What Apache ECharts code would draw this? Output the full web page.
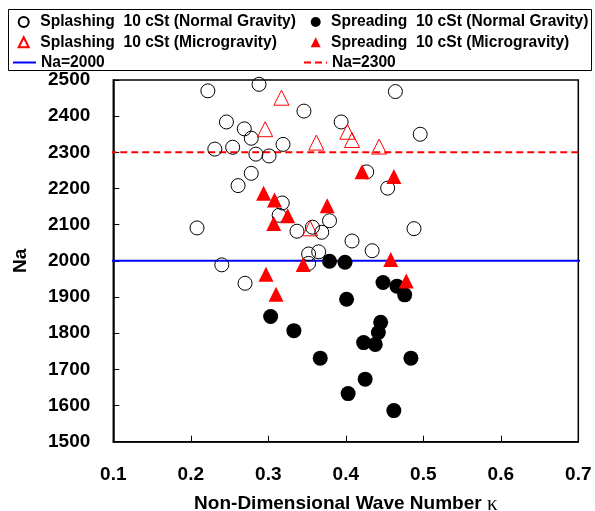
<!DOCTYPE html>
<html>
<head>
<meta charset="utf-8">
<script src="https://cdn.jsdelivr.net/npm/echarts@6/dist/echarts.min.js"></script>
<style>
  html, body { margin: 0; padding: 0; background: #fff; }
  #chart { width: 595px; height: 511px; }
</style>
</head>
<body>
<div id="chart"></div>
<script>
// x = non-dimensional wave number, y = Na
var splashingNormal = [
  [0.222, 2470], [0.288, 2488], [0.346, 2414], [0.246, 2384], [0.269, 2365],
  [0.278, 2339], [0.394, 2384], [0.231, 2309], [0.254, 2314], [0.319, 2322],
  [0.284, 2295], [0.301, 2290], [0.278, 2242], [0.261, 2208], [0.318, 2160],
  [0.314, 2126], [0.208, 2091], [0.337, 2082], [0.357, 2093], [0.369, 2079],
  [0.379, 2111], [0.408, 2055], [0.352, 2019], [0.365, 2025], [0.352, 1993],
  [0.240, 1989], [0.270, 1938], [0.464, 2468], [0.496, 2350], [0.427, 2246],
  [0.454, 2201], [0.488, 2089], [0.434, 2028]
];
var spreadingNormal = [
  [0.379, 1999], [0.399, 1996], [0.448, 1940], [0.466, 1930], [0.476, 1906],
  [0.401, 1894], [0.303, 1846], [0.333, 1807], [0.445, 1830], [0.442, 1802],
  [0.423, 1774], [0.438, 1769], [0.367, 1731], [0.484, 1731], [0.425, 1673],
  [0.403, 1633], [0.462, 1586]
];
var splashingMicro = [
  [0.317, 2451], [0.296, 2364], [0.362, 2327], [0.402, 2357], [0.408, 2334],
  [0.354, 2090], [0.443, 2316]
];
var spreadingMicro = [
  [0.294, 2187], [0.308, 2168], [0.325, 2125], [0.307, 2103], [0.376, 2152],
  [0.345, 1990], [0.421, 2246], [0.462, 2233], [0.458, 2004], [0.297, 1963],
  [0.310, 1908], [0.478, 1944]
];
var na2000 = [[0.0893, 2000], [0.716, 2000]];
var na2300 = [[0.0948, 2300], [0.716, 2300]];

var names = [
  'Splashing  10 cSt (Normal Gravity)',
  'Spreading  10 cSt (Normal Gravity)',
  'Splashing  10 cSt (Microgravity)',
  'Spreading  10 cSt (Microgravity)',
  'Na=2000',
  'Na=2300'
];

var font = 'Liberation Sans, Arial, sans-serif';
var chart = echarts.init(document.getElementById('chart'));

function legend(extra, padLeft) {
  return Object.assign({
    orient: 'vertical',
    padding: 0,
    itemHeight: 10,
    itemGap: 4.2,
    selectedMode: false,
    textStyle: {
      fontFamily: font, fontWeight: 'bold', fontSize: 15.6, color: '#000',
      padding: [0, 0, 0, padLeft || 0]
    }
  }, extra);
}

var option = {
  animation: false,
  backgroundColor: '#fff',
  graphic: [{
    type: 'rect',
    shape: { x: 8.5, y: 9.5, width: 583, height: 61 },
    style: { fill: 'none', stroke: '#000', lineWidth: 1 }
  }],
  legend: [
    legend({
      left: 17.7, top: 14, itemWidth: 10,
      data: [{ name: names[0], icon: 'circle' }, { name: names[2], icon: 'triangle' }]
    }, 6.6),
    legend({
      left: 310.7, top: 14, itemWidth: 10,
      data: [{ name: names[1], icon: 'circle' }, { name: names[3], icon: 'triangle' }]
    }, 5.3),
    legend({
      left: 12, top: 54.5, itemWidth: 23,
      data: [{ name: names[4], itemStyle: { opacity: 0 } }]
    }),
    legend({
      left: 303, top: 54.5, itemWidth: 23,
      data: [{ name: names[5], itemStyle: { opacity: 0 } }]
    })
  ],
  grid: {
    left: 113.3, right: 16.7, top: 80, bottom: 69.3,
    containLabel: false, outerBoundsMode: 'none',
    show: true, borderColor: '#000', borderWidth: 1.5, backgroundColor: 'transparent'
  },
  xAxis: {
    type: 'value', min: 0.1, max: 0.7, interval: 0.1,
    name: '{b|Non-Dimensional Wave Number }{k|κ}',
    nameLocation: 'middle', nameGap: 52,
    nameTextStyle: {
      rich: {
        b: { fontFamily: font, fontWeight: 'bold', fontSize: 19, color: '#000' },
        k: { fontFamily: 'Liberation Serif, Times New Roman, serif', fontSize: 21, color: '#000' }
      }
    },
    axisLine: { lineStyle: { color: '#000', width: 1.5 } },
    axisTick: { inside: true, length: 6, lineStyle: { color: '#000' } },
    splitLine: { show: false },
    axisLabel: {
      margin: 24, color: '#000', fontFamily: font, fontWeight: 'bold', fontSize: 19,
      formatter: function (v) { return v.toFixed(1); }
    }
  },
  yAxis: {
    type: 'value', min: 1500, max: 2500, interval: 100,
    name: 'Na', nameLocation: 'middle', nameGap: 83,
    nameTextStyle: { fontFamily: font, fontWeight: 'bold', fontSize: 19, color: '#000' },
    axisLine: { lineStyle: { color: '#000', width: 1.5 } },
    axisTick: { inside: true, length: 6, lineStyle: { color: '#000' } },
    splitLine: { show: false },
    axisLabel: {
      margin: 23, color: '#000', fontFamily: font, fontWeight: 'bold', fontSize: 19,
      formatter: function (v) { return String(v); }
    }
  },
  series: [
    {
      name: names[4], type: 'line', data: na2000, clip: false, z: 1,
      symbol: 'none', silent: true,
      lineStyle: { color: '#0000ff', width: 2 },
      itemStyle: { color: '#0000ff' }
    },
    {
      name: names[5], type: 'line', data: na2300, clip: false, z: 1,
      symbol: 'none', silent: true,
      lineStyle: { color: '#ff0000', width: 2, type: [7, 4] },
      itemStyle: { color: '#ff0000' }
    },
    {
      name: names[0], type: 'scatter', data: splashingNormal, symbol: 'circle', symbolSize: 14,
      itemStyle: { color: 'rgba(0,0,0,0)', borderColor: '#000', borderWidth: 1, opacity: 1 }, z: 3
    },
    {
      name: names[1], type: 'scatter', data: spreadingNormal, symbol: 'circle', symbolSize: 15,
      itemStyle: { color: '#000', opacity: 1 }, z: 3
    },
    {
      name: names[2], type: 'scatter', data: splashingMicro, symbol: 'triangle', symbolSize: 15,
      itemStyle: { color: 'rgba(0,0,0,0)', borderColor: '#ff0000', borderWidth: 1, opacity: 1 }, z: 3
    },
    {
      name: names[3], type: 'scatter', data: spreadingMicro, symbol: 'triangle', symbolSize: 15,
      itemStyle: { color: '#ff0000', opacity: 1 }, z: 3
    }
  ]
};

option && chart.setOption(option);
</script>
</body>
</html>
